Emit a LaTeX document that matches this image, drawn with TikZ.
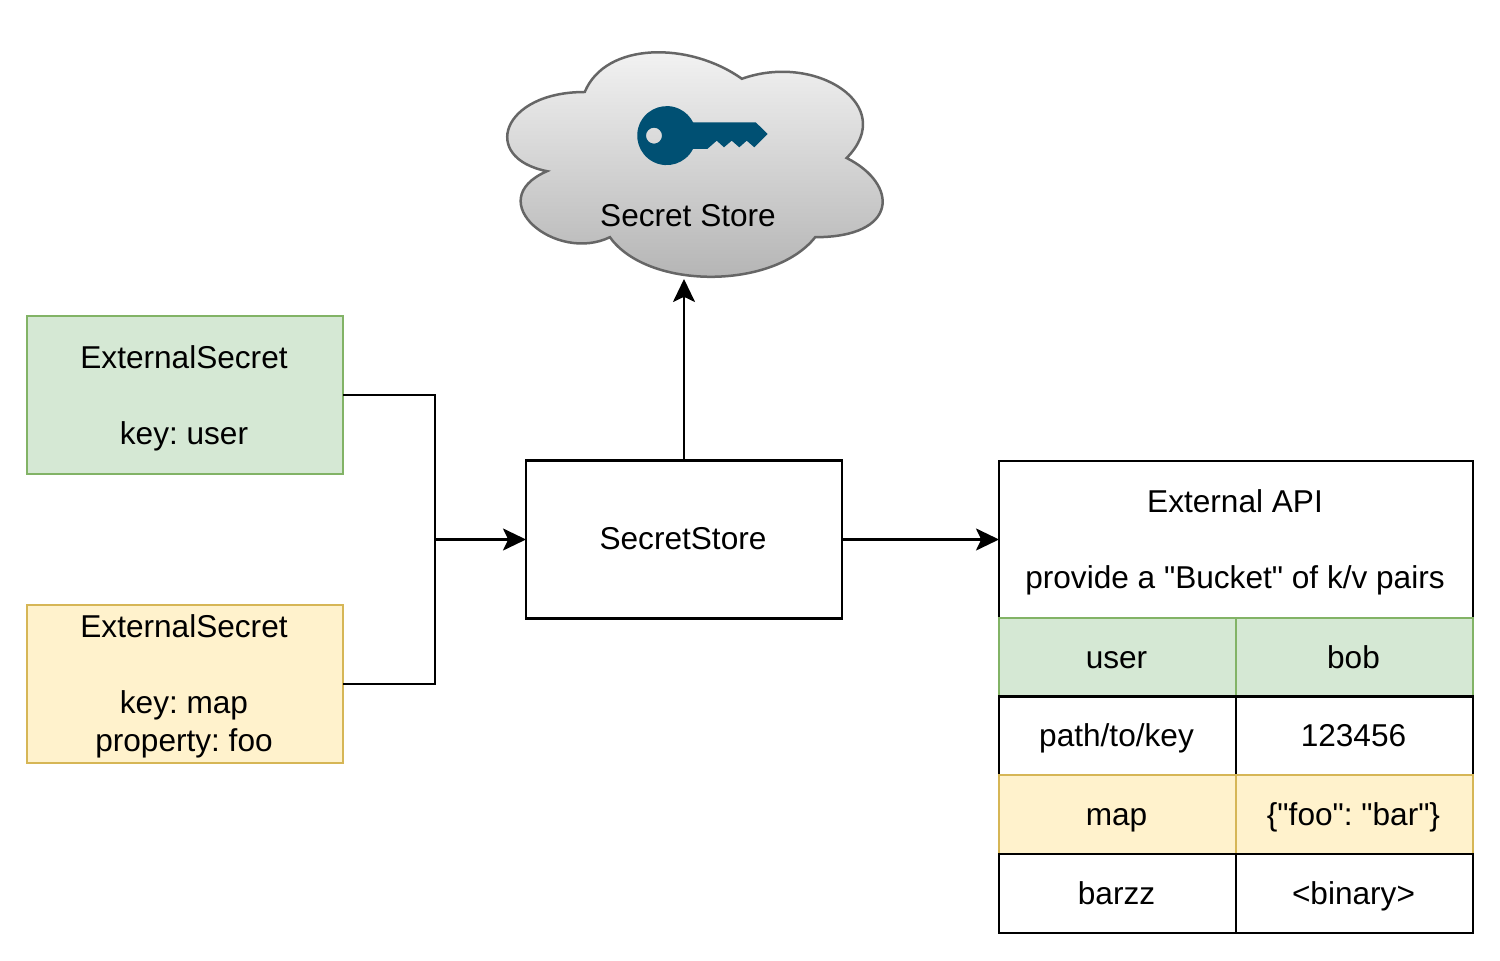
\documentclass[tikz,border=0pt]{standalone}
\usepackage{fontspec}
\setmainfont{Liberation Sans}[Ligatures=TeXOff]
\usetikzlibrary{arrows.meta}
\definecolor{grnfill}{HTML}{D5E8D4}
\definecolor{grnline}{HTML}{82B366}
\definecolor{yelfill}{HTML}{FFF2CC}
\definecolor{yelline}{HTML}{D6B656}
\definecolor{keyblue}{HTML}{005073}
\definecolor{cloudline}{HTML}{666666}
\definecolor{cloudtop}{HTML}{F5F5F5}
\definecolor{cloudbot}{HTML}{B3B3B3}
\tikzset{
  every node/.style={font=\fontsize{15.8pt}{19pt}\selectfont\frenchspacing, align=center, inner sep=0pt, outer sep=0pt, text=black},
  basebox/.style={draw=black, fill=white, line width=1.25pt, rectangle},
  bigbox/.style={basebox, minimum width=158pt, minimum height=79pt},
  headbox/.style={basebox, minimum width=237pt, minimum height=78.5pt},
  cellbox/.style={basebox, minimum width=118.5pt, minimum height=39.4pt, text height=14pt, text depth=3.3pt, execute at end node=\kern1pt},
  greenstyle/.style={draw=grnline, fill=grnfill},
  yellowstyle/.style={draw=yelline, fill=yelfill},
  link/.style={draw=black, line width=1.25pt, -{Stealth[length=11.5pt,width=11pt,inset=2.6pt]}},
  plainlink/.style={draw=black, line width=1.25pt},
}
\begin{document}
\begin{tikzpicture}[x=0.5pt,y=-0.5pt]
\useasboundingbox (0,0) rectangle (1500,961);
% cloud
\def\cloudpath{(584.75,92) .. controls (500.95,92) and (480,158) .. (547.04,171.2)
  .. controls (480,200.24) and (555.42,263.6) .. (609.89,237.2)
  .. controls (647.6,290) and (773.3,290) .. (815.2,237.2)
  .. controls (899,237.2) and (899,184.4) .. (846.63,158)
  .. controls (899,105.2) and (815.2,52.4) .. (741.88,78.8)
  .. controls (689.5,41.5) and (605.7,41.5) .. (584.75,92) -- cycle}
\begin{scope}
  \clip \cloudpath;
  \shade[top color=cloudtop, bottom color=cloudbot] (480,40) rectangle (899,285);
\end{scope}
\draw[cloudline, line width=1.25pt] \cloudpath;
% key
\fill[keyblue, even odd rule]
  (693,122.3) -- (755.7,122.3) -- (767.7,134) -- (754.3,147.3) -- (746.7,140.7) -- (739.3,147.3)
  -- (731.7,140.7) -- (724,147.3) -- (716.7,140.7) -- (707.3,149) -- (693,149)
  arc[start angle=27,end angle=333,radius=29.5] -- cycle
  (654,135.7) circle[radius=8];
\node (cloudlabel) at (688,215.5) {Secret Store};
\coordinate (cloudport) at (684,279);
% boxes
\node[bigbox, greenstyle] (green) at (185,395) {};
\node[bigbox, yellowstyle] (yellow) at (185,684) {};
\node (greentext) at (184,398) {ExternalSecret\\[19pt]key: user};
\node (yellowtext) at (184,686.5) {ExternalSecret\\[19pt]key: map\\property: foo};
\node[bigbox] (store) at (684,539.5) {};
\node (storetext) at (683,538.5) {SecretStore};
% table
\node[headbox] (api) at (1236,539.5) {};
\node (apitext) at (1235,542.5) {External API\\[19pt]provide a "Bucket" of k/v pairs};
\node[cellbox, greenstyle] (c1a) at (1117.5,657.5) {user};
\node[cellbox, greenstyle] (c1b) at (1354.5,657.5) {bob};
\node[cellbox] (c2a) at (1117.5,736) {path/to/key};
\node[cellbox] (c2b) at (1354.5,736) {123456};
\node[cellbox, yellowstyle] (c3a) at (1117.5,814.5) {map};
\node[cellbox, yellowstyle] (c3b) at (1354.5,814.5) {\{"foo": "bar"\}};
\node[cellbox] (c4a) at (1117.5,893.5) {barzz};
\node[cellbox] (c4b) at (1354.5,893.5) {<binary>};
% connectors
\coordinate (junction) at (435,539.5);
\draw[plainlink] (green.east) -| (junction);
\draw[plainlink] (yellow.east) -| (junction);
\draw[link] (junction) -- (store.west);
\draw[link] (store.east) -- (api.west);
\draw[link] (store.north) -- (cloudport);
\end{tikzpicture}
\end{document}
